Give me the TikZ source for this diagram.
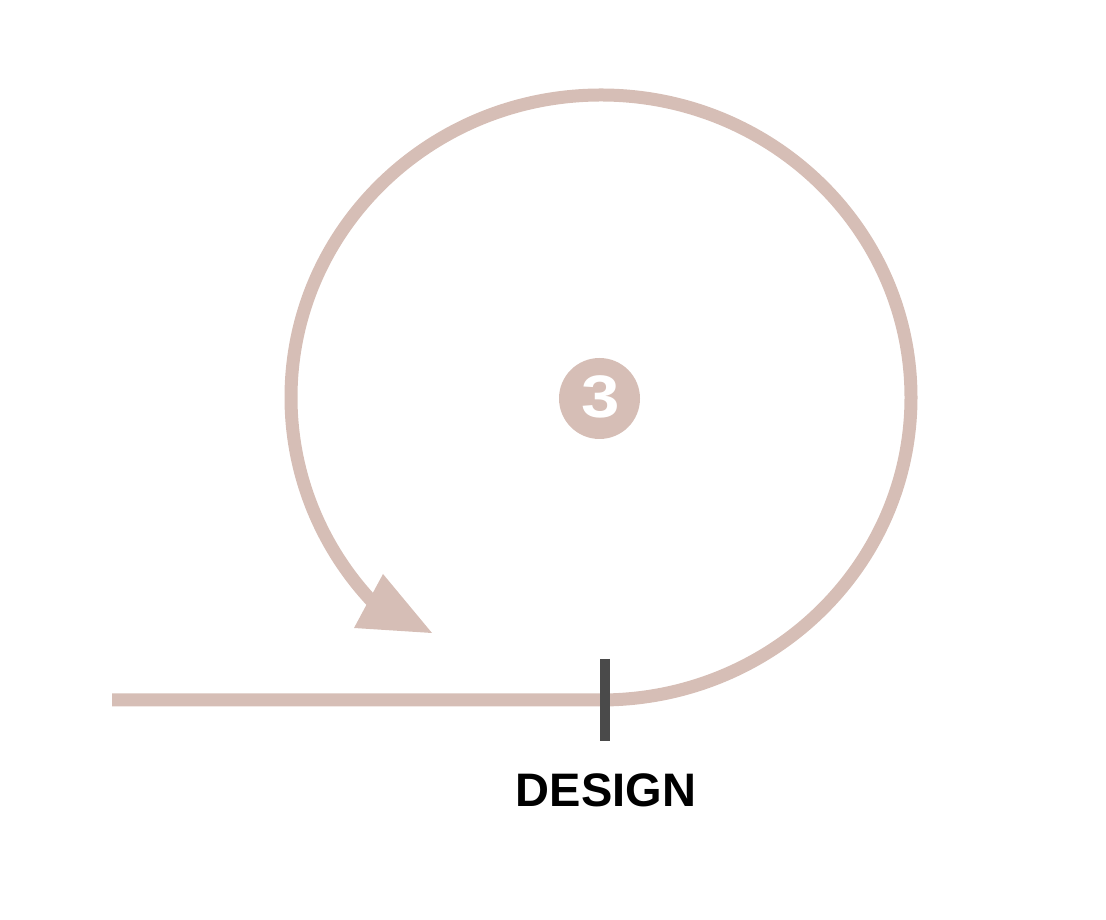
\documentclass[tikz,border=0pt]{standalone}
\usepackage{fontspec}
\setmainfont{Liberation Sans}
\definecolor{rose}{HTML}{D6BEB6}
\definecolor{tickgray}{HTML}{4A4A4A}
\begin{document}
\begin{tikzpicture}[x=1pt,y=1pt,
  track/.style={draw=rose,line width=13pt},
  tickmark/.style={draw=tickgray,line width=10pt},
  badge/.style={circle,fill=rose,minimum size=81pt,inner sep=0pt},
  label/.style={font=\bfseries\fontsize{47}{50}\selectfont,text=black,anchor=base}]
\useasboundingbox (0,0) rectangle (1106,920);
\coordinate (start) at (112,220);
\coordinate (bottom) at (601,220);
\coordinate (tipA) at (354,292);
\coordinate (tipB) at (383,346);
\coordinate (tipC) at (432,287);
\draw[track] (start) -- (bottom) arc[start angle=-90,end angle=224,x radius=310,y radius=302.5];
\fill[rose] (tipA) -- (tipB) -- (tipC) -- cycle;
\coordinate (tickTop) at (605,261);
\coordinate (tickBot) at (605,179);
\draw[tickmark] (tickTop) -- (tickBot);
\node[badge] (num) at (599.5,521.5) {};
\node[text=white,font=\bfseries\fontsize{60}{62}\selectfont,inner sep=0pt] at (600.5,523) {\scalebox{1.15}[1]{3}};
\node[label] (lbl) at (606,113) {DESIGN};
\end{tikzpicture}
\end{document}
